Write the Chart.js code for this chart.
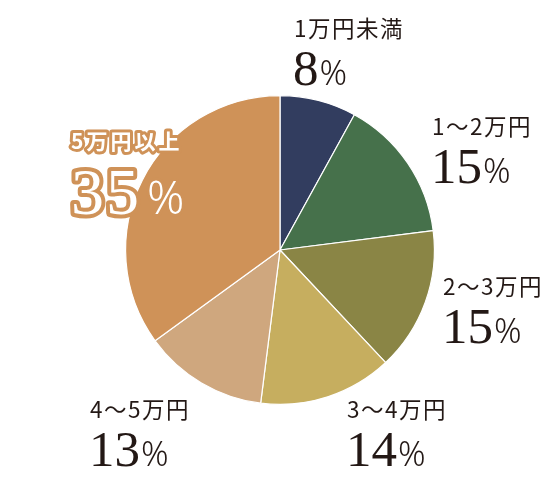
<!DOCTYPE html>
<html>
<head>
<meta charset="utf-8">
<script src="https://cdn.jsdelivr.net/npm/chart.js@4/dist/chart.umd.min.js"></script>
<style>
html,body{margin:0;padding:0;background:#fff;}
#c{display:block;}
</style>
</head>
<body>
<canvas id="c" width="560" height="479"></canvas>
<script>
// ---- data ----
const categories = ['1万円未満', '1〜2万円', '2〜3万円', '3〜4万円', '4〜5万円', '5万円以上'];
const values = [8, 15, 15, 14, 13, 35];
const sliceColors = ['#323d5f', '#46714b', '#8a8545', '#c6ae5f', '#cfa77e', '#cf9258'];

// ---- label layout (style, offsets from pie centre) ----
const labelOffsets = [
  {dx: 14,   ly: -213, ny: -165},
  {dx: 152,  ly: -115, ny: -67},
  {dx: 163,  ly: 45,   ny: 93},
  {dx: 67,   ly: 168,  ny: 216},
  {dx: -190, ly: 168,  ny: 216},
  {dx: -212, ly: -101, ny: -36}
];
const highlightIndex = 5;
const textColor = '#231815';

const labelPlugin = {
  id: 'labels',
  afterDraw(chart) {
    const ctx = chart.ctx;
    const arc = chart.getDatasetMeta(0).data[0];
    const cx = arc.x, cy = arc.y;
    ctx.save();
    ctx.textBaseline = 'alphabetic';
    ctx.textAlign = 'left';
    categories.forEach((cat, i) => {
      const o = labelOffsets[i];
      const x = cx + o.dx;
      const num = String(values[i]);
      if (i === highlightIndex) {
        ctx.lineJoin = 'round';
        ctx.strokeStyle = sliceColors[i];
        ctx.fillStyle = '#ffffff';
        ctx.font = 'bold 21px "Noto Sans CJK JP"';
        ctx.letterSpacing = '3px';
        ctx.lineWidth = 6;
        ctx.strokeText(cat, x + 3, cy + o.ly);
        ctx.fillText(cat, x + 3, cy + o.ly);
        ctx.letterSpacing = '2px';
        ctx.font = '66px "Liberation Serif"';
        ctx.lineWidth = 8;
        ctx.strokeText(num, x + 3, cy + o.ny);
        ctx.fillText(num, x + 3, cy + o.ny);
        const w = ctx.measureText(num).width;
        ctx.letterSpacing = '0px';
        ctx.font = '300 46px "Noto Sans"';
        ctx.lineWidth = 6;
        ctx.strokeText('%', x + 3 + w + 6, cy + o.ny);
        ctx.fillText('%', x + 3 + w + 6, cy + o.ny);
      } else {
        ctx.fillStyle = textColor;
        ctx.font = '22.5px "Noto Sans CJK JP"';
        ctx.letterSpacing = '1.5px';
        ctx.fillText(cat, x, cy + o.ly);
        ctx.letterSpacing = '0px';
        ctx.font = '51px "Liberation Serif"';
        ctx.fillText(num, x - 1, cy + o.ny);
        const w = ctx.measureText(num).width;
        ctx.font = '300 34px "Noto Sans"';
        ctx.fillText('%', x - 1 + w + 1, cy + o.ny);
      }
    });
    ctx.restore();
  }
};

new Chart(document.getElementById('c'), {
  type: 'pie',
  data: {
    labels: categories,
    datasets: [{
      data: values,
      backgroundColor: sliceColors,
      borderColor: '#ffffff',
      borderWidth: 1.2
    }]
  },
  options: {
    responsive: false,
    animation: false,
    layout: {padding: {top: 95, bottom: 74, left: 125, right: 125}},
    plugins: {legend: {display: false}, tooltip: {enabled: false}}
  },
  plugins: [labelPlugin]
});
</script>
</body>
</html>
